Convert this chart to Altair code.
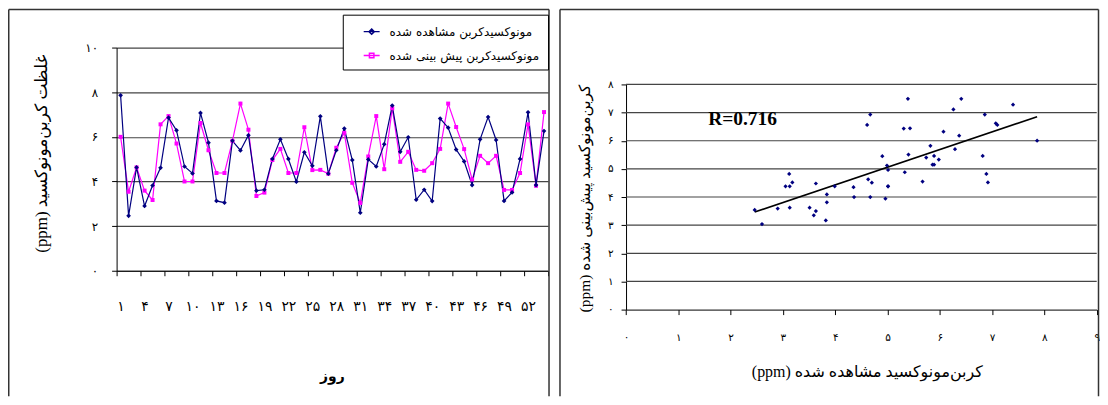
import json
import pandas as pd
import altair as alt

# ---------------- data ----------------
days = list(range(1, 55))
observed = [7.86, 2.46, 4.63, 2.90, 3.82, 4.61, 6.86, 6.29, 4.67, 4.36,
            7.07, 5.74, 3.13, 3.05, 5.82, 5.39, 6.07, 3.59, 3.63, 5.01,
            5.89, 5.01, 3.99, 5.31, 4.70, 6.92, 4.35, 5.40, 6.37, 4.96,
            2.60, 4.99, 4.67, 5.67, 7.40, 5.33, 5.98, 3.18, 3.63, 3.12,
            6.82, 6.41, 5.43, 4.90, 3.84, 5.89, 6.89, 5.86, 3.13, 3.51,
            5.01, 7.10, 3.84, 6.26]
predicted = [6.00, 3.54, 4.63, 3.59, 3.17, 6.56, 6.93, 5.70, 4.00, 4.00,
             6.62, 5.40, 4.38, 4.38, 5.82, 7.49, 6.32, 3.35, 3.50, 4.96,
             5.46, 4.38, 4.38, 6.43, 4.51, 4.52, 4.35, 5.51, 6.18, 3.94,
             3.04, 5.12, 6.93, 4.55, 7.28, 4.88, 5.33, 4.52, 4.48, 4.82,
             5.46, 7.49, 6.44, 5.45, 4.09, 5.15, 4.82, 5.15, 3.62, 3.62,
             4.38, 6.56, 3.81, 7.11]

obs_label = "مونوکسیدکربن مشاهده شده"
pred_label = "مونوکسیدکربن پیش بینی شده"

day_label_values = [1, 4, 7, 10, 13, 16, 19, 22, 25, 28, 31, 34, 37, 40, 43, 46, 49, 52]
day_tick_labels = ["۱", "۴", "۷", "۱۰", "۱۳", "۱۶", "۱۹", "۲۲", "۲۵", "۲۸",
                   "۳۱", "۳۴", "۳۷", "۴۰", "۴۳", "۴۶", "۴۹", "۵۲"]
left_y_ticks = [0, 2, 4, 6, 8, 10]
left_y_labels = ["۰", "۲", "۴", "۶", "۸", "۱۰"]
right_x_ticks = [0, 1, 2, 3, 4, 5, 6, 7, 8, 9]
right_y_ticks = [0, 1, 2, 3, 4, 5, 6, 7, 8]
persian_digits = ["۰", "۱", "۲", "۳", "۴", "۵", "۶", "۷", "۸", "۹"]
right_grid = [1, 2, 3, 4, 5, 6, 7, 8]

left_x_title = "روز"
left_y_title = "(ppm) غلظت کربن‌مونوکسید"
right_x_title = "(ppm) کربن‌مونوکسید مشاهده شده"
right_y_title = "(ppm) کربن‌مونوکسید پیش‌بینی شده"
r_text = ["R=0.716"]
r_x = [1.57]
r_y = [6.76]

# ---------------- styles ----------------
NAVY = "#000080"
MAGENTA = "#FF00FF"
GRID = "#454545"
SANS = "DejaVu Sans"
TITLE_FONT = "Liberation Serif, DejaVu Sans"

wide = pd.DataFrame({"day": days, "observed": observed, "predicted": predicted})
long = pd.DataFrame({
    "day": days + days,
    "value": observed + predicted,
    "series": [obs_label] * len(days) + [pred_label] * len(days),
})

W, H = 433, 224
lx = alt.Scale(domain=[0.5, 54.5], range=[0, W], nice=False, zero=False)
ly = alt.Scale(domain=[0, 10], range=[H, 0], nice=False, zero=False)
rx = alt.Scale(domain=[0, 9], range=[511.3, 983.7], nice=False, zero=False)
ry = alt.Scale(domain=[0, 8], range=[263, 37], nice=False, zero=False)

axis_common = dict(domainColor="black", tickColor="black", labelColor="black",
                   labelFont=SANS, labelFontSize=12, titleFont=TITLE_FONT,
                   titleFontSize=14, titleFontWeight="normal", titleColor="black",
                   tickSize=5, labelFlush=False, labelOverlap=False)

# ticks between categories (every 3 days), no labels
left_x_tick_vals = [0.5 + 3 * i for i in range(19)]
left_x_axis = alt.Axis(
    orient="bottom", values=left_x_tick_vals, labels=False, grid=False,
    title=left_x_title, titleX=216, titleY=106, titleBaseline="middle",
    titleAlign="center", **{**axis_common, "titleFontWeight": "bold", "titleFont": SANS})
# labels at category centres, no ticks
left_x_label_axis = alt.Axis(
    orient="bottom", values=day_label_values, ticks=False, domain=False, grid=False,
    title=None,
    labelExpr=f"{json.dumps(day_tick_labels, ensure_ascii=False)}[round((datum.value - 1) / 3)]",
    labelPadding=29, **{**axis_common, "labelFontSize": 14})
left_y_axis = alt.Axis(
    orient="left", values=left_y_ticks,
    labelExpr=f"{json.dumps(left_y_labels, ensure_ascii=False)}[round(datum.value / 2)]",
    labelPadding=14, grid=True, gridColor=GRID, gridWidth=1.2,
    title=left_y_title, titleAngle=270, titleX=-75, titleY=106,
    titleAlign="center", titleBaseline="middle",
    **{**axis_common, "titleFontSize": 17})

right_x_axis = alt.Axis(
    orient="bottom", values=right_x_ticks, offset=39,
    labelExpr=f"{json.dumps(persian_digits, ensure_ascii=False)}[round(datum.value)]",
    labelPadding=18, grid=False,
    title=right_x_title, titleX=753, titleY=62, titleAlign="center",
    titleBaseline="middle",
    **{**axis_common, "titleFontSize": 16, "labelFontSize": 10.5})
right_y_axis = alt.Axis(
    orient="left", values=right_y_ticks, offset=-511.3,
    labelExpr=f"{json.dumps(persian_digits, ensure_ascii=False)}[round(datum.value)]",
    labelPadding=8, grid=False,
    title=right_y_title, titleAngle=270, titleX=-41.3, titleY=151,
    titleAlign="center", titleBaseline="middle",
    **{**axis_common, "titleFontSize": 15.5, "labelFontSize": 10.5})

# ---------------- left panel ----------------
pred_line = alt.Chart(wide).mark_line(color=MAGENTA, strokeWidth=1.2).encode(
    x=alt.X("day:Q", scale=lx, axis=left_x_label_axis),
    y=alt.Y("predicted:Q", scale=ly, axis=None))
obs_line = alt.Chart(wide).mark_line(color=NAVY, strokeWidth=1.2).encode(
    x=alt.X("day:Q", scale=lx, axis=left_x_axis),
    y=alt.Y("observed:Q", scale=ly, axis=left_y_axis))
pred_pts = alt.Chart(wide).mark_point(shape="square", filled=True, size=16,
                                      color=MAGENTA, opacity=1).encode(
    x=alt.X("day:Q", scale=lx, axis=None),
    y=alt.Y("predicted:Q", scale=ly, axis=None))
obs_pts = alt.Chart(wide).mark_point(shape="diamond", filled=True, size=22,
                                     color=NAVY, opacity=1).encode(
    x=alt.X("day:Q", scale=lx, axis=None),
    y=alt.Y("observed:Q", scale=ly, axis=None))

legend_kw = dict(title=None, orient="none", legendX=227, legendY=-33,
                 direction="vertical", padding=8, symbolOffset=12,
                 symbolSize=256, symbolStrokeWidth=1.5, symbolOpacity=1,
                 labelOffset=9, rowPadding=9, labelFont=SANS, labelFontSize=12,
                 labelColor="black", labelLimit=400, strokeColor="black",
                 fillColor="white")
path_obs = "M-1,0H1M0,-0.33L0.33,0L0,0.33L-0.33,0Z"
path_pred = "M-1,0H1M-0.28,-0.28H0.28V0.28H-0.28Z"
legend_layer = alt.Chart(long).mark_point(opacity=0, filled=False).encode(
    x=alt.X("day:Q", scale=lx, axis=None),
    y=alt.Y("value:Q", scale=ly, axis=None),
    color=alt.Color("series:N", scale=alt.Scale(domain=[obs_label, pred_label],
                                                range=[NAVY, MAGENTA]),
                    legend=alt.Legend(**legend_kw)),
    shape=alt.Shape("series:N", scale=alt.Scale(domain=[obs_label, pred_label],
                                                range=[path_obs, path_pred]),
                    legend=alt.Legend(**legend_kw)))

# ---------------- right panel ----------------
grid_r = alt.Chart(pd.DataFrame({"g": right_grid})).mark_rule(
    color=GRID, strokeWidth=1.2).encode(
    y=alt.Y("g:Q", scale=ry, axis=None),
    x=alt.XDatum(0, type="quantitative", scale=rx, axis=None),
    x2=alt.X2Datum(9))
scatter = alt.Chart(wide).mark_point(shape="diamond", filled=True, size=18,
                                     color=NAVY, opacity=1).encode(
    x=alt.X("observed:Q", scale=rx, axis=right_x_axis),
    y=alt.Y("predicted:Q", scale=ry, axis=right_y_axis))
reg = alt.Chart(wide).transform_regression("observed", "predicted").mark_line(
    color="black", strokeWidth=1.6).encode(
    x=alt.X("observed:Q", scale=rx, axis=None),
    y=alt.Y("predicted:Q", scale=ry, axis=None))
r_label = alt.Chart(pd.DataFrame({"x": r_x, "y": r_y, "t": r_text})).mark_text(
    align="left", baseline="middle", font="Liberation Serif", fontSize=19.5,
    fontWeight="bold", color="black").encode(
    x=alt.X("x:Q", scale=rx, axis=None),
    y=alt.Y("y:Q", scale=ry, axis=None),
    text="t:N")

# ---------------- panel frames (decoration) ----------------
one = pd.DataFrame({"k": [0]})


def seg(x1, y1, x2, y2):
    return alt.Chart(one).mark_rule(color="#333333", strokeWidth=1.5).encode(
        x=alt.value(x1), y=alt.value(y1), x2=alt.value(x2), y2=alt.value(y2))


TOP, BOT = -38.25, 350
frames = [
    seg(-108.25, TOP, -108.25, BOT), seg(-108.25, TOP, 434, TOP), seg(434, TOP, 434, BOT),
    seg(445, TOP, 445, BOT), seg(445, TOP, 985.5, TOP), seg(985.5, TOP, 985.5, BOT),
]

chart = alt.layer(
    *frames, grid_r, pred_line, obs_line, pred_pts, obs_pts, legend_layer,
    reg, scatter, r_label,
).resolve_scale(
    x="independent", y="independent"
).resolve_axis(
    x="independent", y="independent"
).properties(
    width=W, height=H,
    autosize=alt.AutoSizeParams(type="none"),
    padding={"left": 109, "top": 39, "right": 554, "bottom": 126},
    background="white",
).configure_view(stroke=None)

chart.save("out.html", embed_options={"renderer": "svg", "actions": False})
